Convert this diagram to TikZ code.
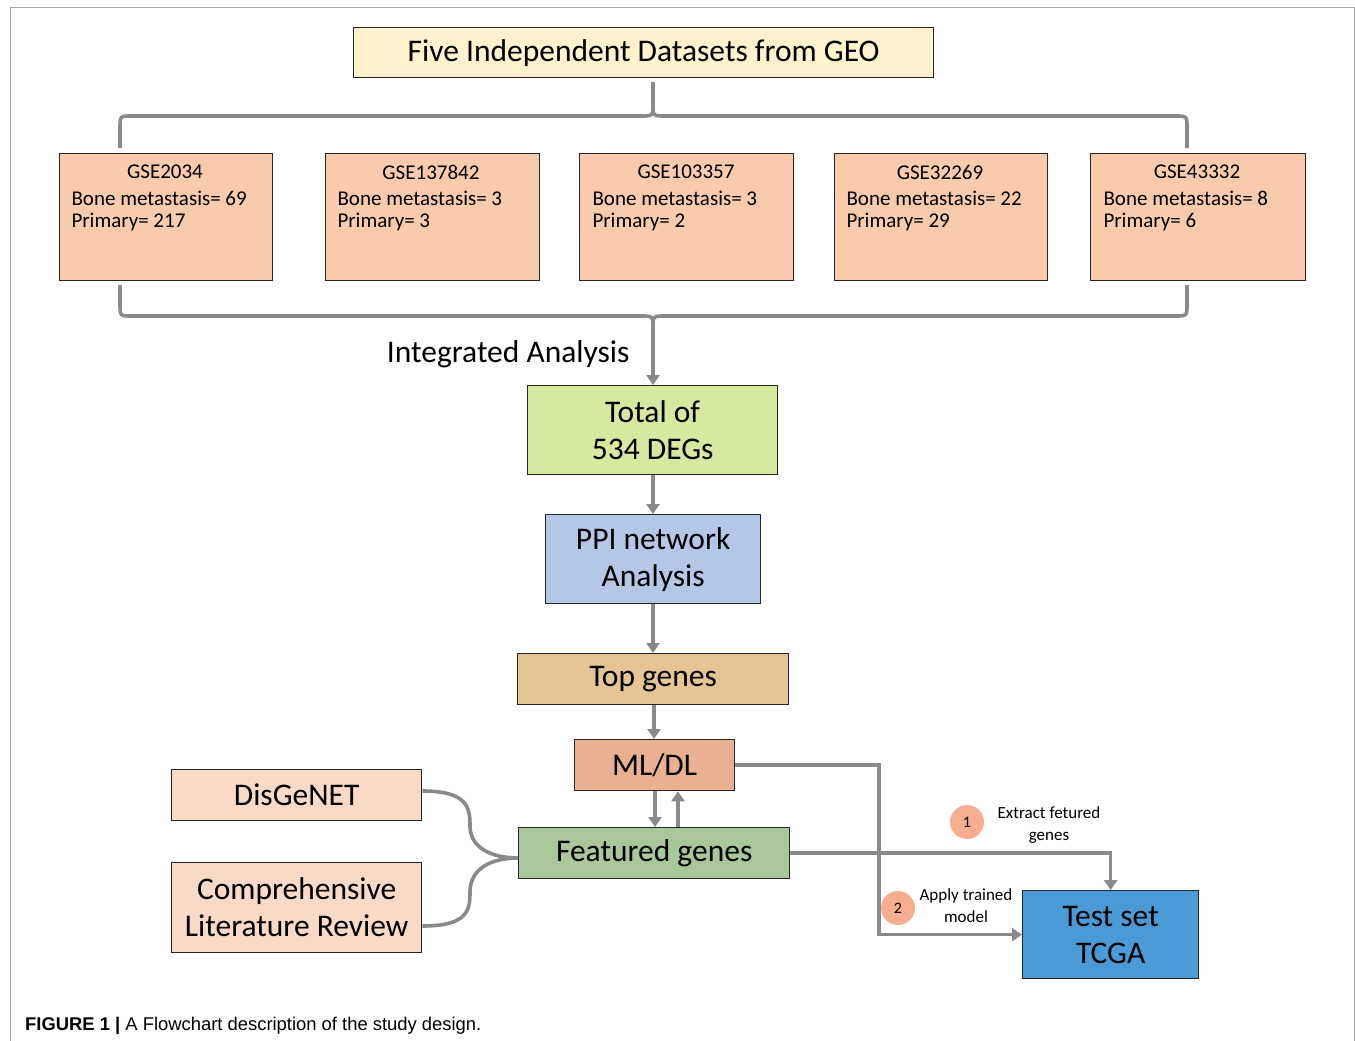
\documentclass[tikz,border=0pt]{standalone}
\usepackage{fontspec}
\setmainfont{Carlito}
\newfontfamily\capfont{Liberation Sans}
\usetikzlibrary{arrows.meta}
\definecolor{cTitle}{HTML}{FFF2CC}
\definecolor{cData}{HTML}{F8CBAD}
\definecolor{cTotal}{HTML}{D6E9A0}
\definecolor{cPPI}{HTML}{B4C7E7}
\definecolor{cTop}{HTML}{E6C594}
\definecolor{cML}{HTML}{E9B092}
\definecolor{cFeat}{HTML}{A9C79A}
\definecolor{cSrc}{HTML}{F9DAC6}
\definecolor{cTest}{HTML}{4A9BD5}
\definecolor{cCirc}{HTML}{F7AE8E}
\definecolor{cLine}{HTML}{8A8A8A}
\begin{document}
\begin{tikzpicture}[x=1pt,y=-1pt,
  box/.style={draw=black!85, line width=1.3pt, inner sep=0pt, align=center, anchor=north west},
  conn/.style={draw=cLine, line width=3.6pt},
  arr/.style={conn, -{Triangle[length=10pt,width=13pt]}},
  big/.style={font=\fontsize{31.5}{37}\selectfont},
  mid/.style={font=\fontsize{21}{24}\selectfont},
  small/.style={font=\fontsize{17}{22}\selectfont, align=center},
  circ/.style={circle, fill=cCirc, minimum size=34pt, inner sep=0pt, font=\fontsize{16}{18}\selectfont}
]
\useasboundingbox (0,0) rectangle (1355,1041);
\draw[gray!70, line width=1pt] (10,1041) -- (10,8) -- (1354,8) -- (1354,1041);

% title
\node[box, fill=cTitle, minimum width=580pt, minimum height=50pt, big] (title) at (353,27) {Five Independent Datasets from GEO};

% datasets
\node[box, fill=cData, minimum width=213pt, minimum height=127pt] (d1) at (59,153) {};
\node[box, fill=cData, minimum width=214pt, minimum height=127pt] (d2) at (325,153) {};
\node[box, fill=cData, minimum width=214pt, minimum height=127pt] (d3) at (579,153) {};
\node[box, fill=cData, minimum width=213pt, minimum height=127pt] (d4) at (834,153) {};
\node[box, fill=cData, minimum width=215pt, minimum height=127pt] (d5) at (1090,153) {};

\node[mid] (d1t) at (165,172) {GSE2034};
\node[mid, anchor=west] (d1a) at (68,198) {Bone metastasis= 69};
\node[mid, anchor=west] (d1b) at (68,222) {Primary= 217};
\node[mid] (d2t) at (431,172) {GSE137842};
\node[mid, anchor=west] (d2a) at (334,198) {Bone metastasis= 3};
\node[mid, anchor=west] (d2b) at (334,222) {Primary= 3};
\node[mid] (d3t) at (686,172) {GSE103357};
\node[mid, anchor=west] (d3a) at (589,198) {Bone metastasis= 3};
\node[mid, anchor=west] (d3b) at (589,222) {Primary= 2};
\node[mid] (d4t) at (940,172) {GSE32269};
\node[mid, anchor=west] (d4a) at (843,198) {Bone metastasis= 22};
\node[mid, anchor=west] (d4b) at (843,222) {Primary= 29};
\node[mid] (d5t) at (1197,172) {GSE43332};
\node[mid, anchor=west] (d5a) at (1100,198) {Bone metastasis= 8};
\node[mid, anchor=west] (d5b) at (1100,222) {Primary= 6};

% top bracket
\coordinate (tl) at (120,148);
\coordinate (tr) at (1187,148);
\draw[conn] (tl) -- (120,128) .. controls (120,116) .. (132,116) -- (641,116)
  .. controls (653,116) .. (653,104) -- (653,82);
\draw[conn] (tr) -- (1187,128) .. controls (1187,116) .. (1175,116) -- (665,116)
  .. controls (653,116) .. (653,104);

% main column
\node[box, fill=cTotal, minimum width=250pt, minimum height=89pt, big] (total) at (527,385) {Total of\\534 DEGs};
\node[box, fill=cPPI, minimum width=215pt, minimum height=89pt, big] (ppi) at (545,514) {PPI network\\Analysis};
\node[box, fill=cTop, minimum width=271pt, minimum height=51pt, big] (top) at (517,653) {Top genes};
\node[box, fill=cML, minimum width=160pt, minimum height=51pt, big] (ml) at (574,739) {ML/DL};
\node[box, fill=cFeat, minimum width=271pt, minimum height=51pt, big] (feat) at (518,827) {Featured genes};
\node[box, fill=cSrc, minimum width=250pt, minimum height=51pt, big] (dis) at (171,769) {DisGeNET};
\node[box, fill=cSrc, minimum width=250pt, minimum height=90pt, big] (lit) at (171,862) {Comprehensive\\Literature Review};
\node[box, fill=cTest, minimum width=176pt, minimum height=88pt, big] (test) at (1022,890) {Test set\\TCGA};

% bottom bracket
\coordinate (bl) at (120,285);
\coordinate (br) at (1187,285);
\draw[conn] (bl) -- (120,304) .. controls (120,316) .. (132,316) -- (641,316)
  .. controls (653,316) .. (653,328);
\draw[conn] (br) -- (1187,304) .. controls (1187,316) .. (1175,316) -- (665,316)
  .. controls (653,316) .. (653,328);
\draw[arr] (653,326) -- (total.north -| 653,0);
\node[big, anchor=east] (integ) at (633,354) {Integrated Analysis};

\draw[arr] (total.south -| 653,0) -- (ppi.north -| 653,0);
\draw[arr] (ppi.south -| 653,0) -- (top.north -| 653,0);
\draw[arr] (top.south -| 654,0) -- (ml.north -| 654,0);
\draw[arr] (ml.south -| 655,0) -- (feat.north -| 655,0);
\draw[arr] (feat.north -| 678,0) -- (ml.south -| 678,0);

% merging curves
\draw[conn] (dis.east |- 0,791) .. controls (468,791) and (470,808) .. (470,826)
  .. controls (470,848) and (492,858) .. (feat.west |- 0,858);
\draw[conn] (lit.east |- 0,926) .. controls (468,926) and (470,910) .. (470,892)
  .. controls (470,868) and (492,858) .. (feat.west |- 0,858);

% to test set
\draw[arr] (ml.east) -- (ml.east -| 879,0) |- (test.west);
\draw[arr] (feat.east) -| (test.north);

\node[circ] (c1) at (967,822) {1};
\node[small] (t1) at (1049,825) {Extract fetured\\genes};
\node[circ] (c2) at (898,908) {2};
\node[small] (t2) at (966,906) {Apply trained\\model};

% caption
\node[anchor=west, inner sep=0pt] (cap) at (25,1026) {\capfont\fontsize{18.4}{20}\selectfont\textbf{FIGURE 1 |} A Flowchart description of the study design.};
\end{tikzpicture}
\end{document}
